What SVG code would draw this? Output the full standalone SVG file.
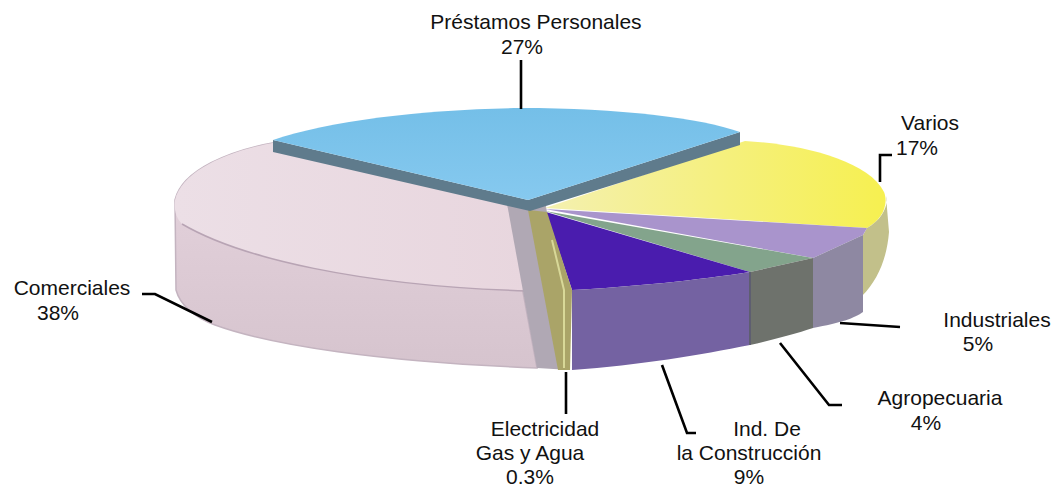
<svg xmlns="http://www.w3.org/2000/svg" width="1060" height="494" viewBox="0 0 1060 494">
<style>
text{font-family:"Liberation Sans",Arial,sans-serif;font-size:21px;fill:#111;text-anchor:middle}
.lead{fill:none;stroke:#000;stroke-width:2.6}
</style>
<defs>
<linearGradient id="pinkSide" x1="0" y1="0" x2="0" y2="1">
<stop offset="0" stop-color="#e6d4de"/><stop offset="1" stop-color="#d6c4ce"/>
</linearGradient>
<linearGradient id="pinkTop" x1="0" y1="0" x2="1" y2="0">
<stop offset="0" stop-color="#ecdfe6"/><stop offset="1" stop-color="#e8d6de"/>
</linearGradient>
<linearGradient id="yellowTop" x1="0" y1="0" x2="1" y2="0">
<stop offset="0" stop-color="#f4f0b0"/><stop offset="1" stop-color="#f6f050"/>
</linearGradient>
<linearGradient id="blueTop" x1="0" y1="0" x2="0" y2="1">
<stop offset="0" stop-color="#74bfe8"/><stop offset="1" stop-color="#86c9ef"/>
</linearGradient>
</defs>
<rect width="1060" height="494" fill="#fff"/>

<g id="comerciales">
<path d="M278,142 C230,150 182,170 175,200 L176,290 C180,305 195,318 215,325 C270,345 380,362 537,368 L506,200 Z" fill="url(#pinkSide)" stroke="#c4b4c0" stroke-width="1.5"/>
<path d="M278,142 C230,150 182,170 175,200 C174,210 176,218 182,224 C240,258 360,286 528,291 L506,200 Z" fill="url(#pinkTop)"/>
<path d="M182,224 C240,258 360,286 528,291" fill="none" stroke="#b8a4b4" stroke-width="1.5"/>
<text x="72" y="295">Comerciales</text>
<text x="58" y="320">38%</text>
</g>

<g id="cutface">
<polygon points="506,198,546,206,570,370,537,368" fill="#b0a8b4"/>
</g>

<g id="varios">
<path d="M545,208 L745,141 C800,144 868,160 884,192 C889,205 882,220 867,228 Z" fill="url(#yellowTop)"/>
<path d="M867,228 C882,220 889,205 886,196 L889,232 C887,258 878,280 862,296 L863,235 Z" fill="#c2c08a"/>
<text x="930" y="130">Varios</text>
<text x="917" y="155">17%</text>
</g>

<g id="industriales">
<path d="M545,209 L867,228 L863,235 L813,258 Z" fill="#a994cc"/>
<path d="M813,258 L863,235 L863,312 C855,318 840,323 813,328 Z" fill="#8e88a2"/>
<text x="997" y="327">Industriales</text>
<text x="978" y="351">5%</text>
</g>

<g id="agropecuaria">
<path d="M545,211 L813,258 L750,272 Z" fill="#83a48c"/>
<path d="M750,272 L813,258 L813,328 C795,334 772,340 750,345 Z" fill="#6e726c"/>
<text x="940" y="405">Agropecuaria</text>
<text x="926" y="430">4%</text>
</g>

<g id="construccion">
<path d="M546,212 L750,272 C700,280 630,287 572,290 Z" fill="#4a1cae"/>
<path d="M572,290 C630,287 700,280 750,272 L750,345 C700,355 640,365 572,370 Z" fill="#7462a2"/>
<path d="M750,272 V345" stroke="#5e5e70" stroke-width="2"/>
<text x="767" y="436">Ind. De</text>
<text x="749" y="460">la Construcción</text>
<text x="749" y="484">9%</text>
</g>

<g id="electricidad">
<polygon points="528,210,547,212,572,290,570,370,558,370" fill="#aaa468"/>
<path d="M552,240 L564,290 L564,368" fill="none" stroke="#d8d898" stroke-width="2"/>
<text x="545" y="436">Electricidad</text>
<text x="530" y="460">Gas y Agua</text>
<text x="530" y="484">0.3%</text>
</g>

<g id="prestamos">
<path d="M273,140 L528,200 L740,132 L740,145 L530,211 L273,152 Z" fill="#5f7b8c"/>
<path d="M273,140 C330,120 430,109 520,108 C620,108 700,118 740,132 L528,200 Z" fill="url(#blueTop)"/>
<text x="536" y="29">Préstamos Personales</text>
<text x="522" y="54">27%</text>
</g>

<g id="connectors">
<path class="lead" d="M521,60 V109"/>
<path class="lead" d="M892,155 H880 V182"/>
<path class="lead" d="M840,323 L900,327"/>
<path class="lead" d="M780,343 L829,405 H842"/>
<path class="lead" d="M566,372 V414"/>
<path class="lead" d="M662,365 L687,433 H696"/>
<path class="lead" d="M142,294 H155 L212,322"/>
</g>
</svg>
